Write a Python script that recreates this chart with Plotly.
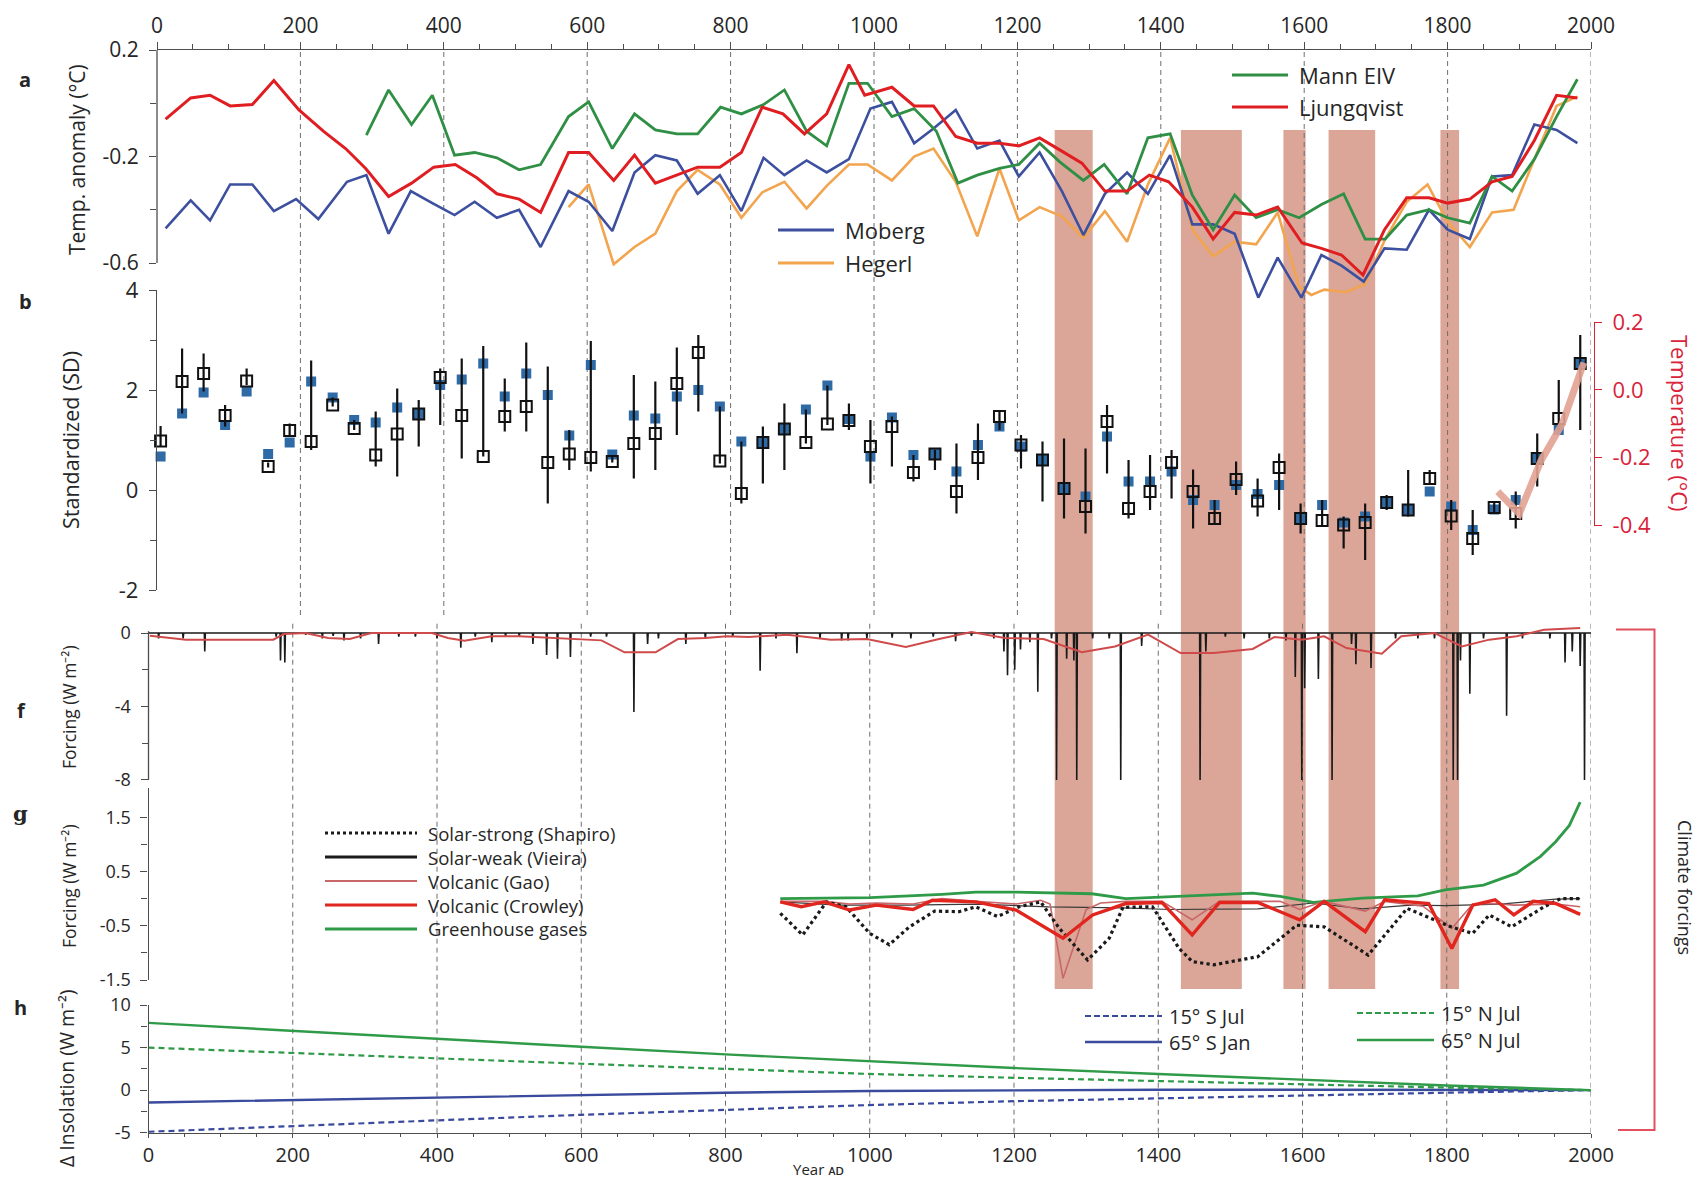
import plotly.graph_objects as go

W, H = 1703, 1178
def px(x): return x / W
def py(y): return 1 - y / H

FONT = "Open Sans, sans-serif"
AX = "#4d4d4d"
TXT = "#262626"

# ---------------- Panel a: temperature reconstructions ----------------
moberg_years = [12, 47, 74, 102, 133, 163, 194, 225, 265, 292, 323, 354, 384, 415, 443, 474, 505, 535, 574, 602,
                635, 666, 695, 725, 754, 785, 815, 846, 875, 906, 934, 965, 995, 1025, 1056, 1083, 1114, 1144, 1175, 1202,
                1231, 1262, 1292, 1322, 1353, 1382, 1413, 1444, 1473, 1503, 1536, 1563, 1596, 1624, 1652, 1683, 1712, 1743, 1774, 1800,
                1831, 1862, 1890, 1921, 1952, 1981]
moberg = [-0.47, -0.365, -0.44, -0.305, -0.305, -0.405, -0.36, -0.435, -0.295, -0.27,
          -0.49, -0.33, -0.375, -0.42, -0.37, -0.43, -0.40, -0.54, -0.33, -0.37,
          -0.48, -0.26, -0.195, -0.215, -0.34, -0.27, -0.405, -0.205, -0.27, -0.215,
          -0.26, -0.21, -0.02, 0.005, -0.15, -0.095, -0.025, -0.17, -0.14, -0.275,
          -0.185, -0.33, -0.495, -0.34, -0.26, -0.34, -0.195, -0.455, -0.455, -0.49,
          -0.73, -0.58, -0.73, -0.57, -0.61, -0.67, -0.545, -0.55, -0.40, -0.475,
          -0.51, -0.275, -0.27, -0.08, -0.10, -0.15]

ljung_years = [12, 47, 74, 102, 133, 163, 198, 232, 263, 291, 323, 355, 386, 416, 446, 474, 505, 535, 574, 602,
               637, 666, 695, 725, 754, 785, 815, 844, 873, 903, 934, 965, 987, 1025, 1056, 1083, 1114, 1144, 1175, 1202,
               1231, 1259, 1290, 1322, 1353, 1384, 1411, 1444, 1473, 1503, 1533, 1563, 1597, 1624, 1652, 1682, 1712, 1743, 1774, 1800,
               1831, 1862, 1890, 1921, 1952, 1981]
ljung = [-0.06, 0.02, 0.03, -0.01, -0.005, 0.085, -0.025, -0.105, -0.17, -0.245,
         -0.35, -0.30, -0.24, -0.23, -0.28, -0.34, -0.36, -0.41, -0.185, -0.185,
         -0.29, -0.195, -0.30, -0.27, -0.24, -0.24, -0.185, -0.015, -0.04, -0.115,
         -0.04, 0.145, 0.03, 0.06, -0.01, -0.01, -0.125, -0.15, -0.15, -0.16,
         -0.13, -0.175, -0.225, -0.33, -0.33, -0.27, -0.295, -0.39, -0.51, -0.41,
         -0.42, -0.39, -0.525, -0.545, -0.57, -0.645, -0.475, -0.355, -0.355, -0.375,
         -0.36, -0.295, -0.275, -0.14, 0.03, 0.02]

mann_years = [292, 323, 355, 384, 415, 443, 474, 505, 535, 574, 602, 635, 666, 695, 725, 754, 786, 815, 846, 875,
              906, 934, 965, 991, 1025, 1056, 1087, 1117, 1144, 1175, 1202, 1231, 1259, 1292, 1321, 1353, 1382, 1413, 1444, 1473,
              1503, 1533, 1563, 1593, 1624, 1655, 1685, 1713, 1743, 1774, 1800, 1831, 1862, 1890, 1921, 1952, 1981]
mann = [-0.12, 0.05, -0.08, 0.03, -0.195, -0.185, -0.205, -0.25, -0.23, -0.05,
        0.005, -0.17, -0.04, -0.10, -0.115, -0.115, -0.015, -0.04, -0.005, 0.05,
        -0.105, -0.16, 0.075, 0.075, -0.05, -0.02, -0.105, -0.30, -0.27, -0.245,
        -0.23, -0.15, -0.22, -0.29, -0.23, -0.34, -0.13, -0.115, -0.345, -0.475,
        -0.345, -0.43, -0.40, -0.43, -0.38, -0.34, -0.51, -0.51, -0.42, -0.40,
        -0.43, -0.45, -0.275, -0.33, -0.21, -0.05, 0.09]

hegerl_years = [574, 602, 637, 666, 695, 725, 754, 785, 815, 844, 875, 906, 934, 965, 991, 1025, 1056, 1083, 1114, 1144,
                1175, 1202, 1231, 1262, 1292, 1322, 1353, 1382, 1413, 1444, 1473, 1503, 1533, 1563, 1593, 1610, 1628, 1658, 1685, 1713,
                1743, 1772, 1800, 1831, 1862, 1892, 1921, 1952, 1981]
hegerl = [-0.39, -0.305, -0.605, -0.54, -0.49, -0.33, -0.25, -0.305, -0.43, -0.335,
          -0.295, -0.395, -0.31, -0.23, -0.23, -0.29, -0.20, -0.17, -0.295, -0.50,
          -0.245, -0.44, -0.39, -0.425, -0.505, -0.405, -0.52, -0.305, -0.13, -0.475,
          -0.575, -0.52, -0.53, -0.41, -0.69, -0.72, -0.70, -0.71, -0.68, -0.51,
          -0.37, -0.305, -0.445, -0.54, -0.41, -0.40, -0.21, -0.01, 0.025]

# ---------------- Panel b: standardized proxies ----------------
b_years = list(range(5, 2000, 30))
b_proxy = [0.98, 2.17, 2.33, 1.49, 2.18, 0.47, 1.19, 0.97, 1.70, 1.23,
           0.70, 1.12, 1.52, 2.25, 1.49, 0.67, 1.47, 1.67, 0.55, 0.72,
           0.65, 0.57, 0.93, 1.13, 2.13, 2.75, 0.58, -0.07, 0.95, 1.22,
           0.95, 1.32, 1.39, 0.87, 1.27, 0.35, 0.72, -0.03, 0.65, 1.47,
           0.90, 0.60, 0.03, -0.33, 1.37, -0.37, -0.03, 0.55, -0.03, -0.57,
           0.21, -0.22, 0.45, -0.57, -0.61, -0.70, -0.65, -0.25, -0.40, 0.23,
           -0.52, -0.97, -0.35, -0.47, 0.63, 1.43, 2.53]
b_blue = [0.67, 1.53, 1.95, 1.30, 1.97, 0.72, 0.95, 2.17, 1.85, 1.40,
          1.35, 1.65, 1.52, 2.10, 2.21, 2.53, 1.87, 2.33, 1.90, 1.09,
          2.50, 0.71, 1.49, 1.43, 1.87, 2.00, 1.67, 0.97, 0.95, 1.22,
          1.61, 2.09, 1.42, 0.67, 1.45, 0.70, 0.72, 0.37, 0.90, 1.27,
          0.87, 0.60, 0.03, -0.13, 1.07, 0.17, 0.17, 0.37, -0.20, -0.30,
          0.10, -0.08, 0.10, -0.57, -0.30, -0.65, -0.53, -0.25, -0.40, -0.03,
          -0.33, -0.80, -0.39, -0.20, 0.63, 1.20, 2.53]
b_hi = [1.28, 2.83, 2.73, 1.70, 2.43, 0.55, 1.33, 2.59, 1.85, 1.40,
        1.57, 2.03, 1.80, 2.43, 2.63, 2.88, 2.23, 2.95, 2.47, 1.20,
        2.98, 0.70, 2.30, 2.17, 2.85, 3.10, 1.67, 0.97, 1.27, 1.73,
        1.61, 2.09, 1.73, 1.40, 1.47, 0.70, 0.80, 0.93, 1.33, 1.57,
        1.10, 0.97, 1.03, 0.83, 1.70, 0.60, 0.70, 0.80, 0.41, -0.20,
        0.57, 0.23, 0.73, -0.27, -0.20, -0.53, -0.27, -0.10, 0.40, 0.40,
        -0.20, -0.40, -0.23, -0.03, 1.13, 2.20, 3.10]
b_lo = [0.87, 1.53, 1.97, 1.27, 2.10, 0.45, 1.07, 0.80, 1.67, 1.20,
        0.47, 0.27, 0.87, 1.30, 0.63, 0.67, 1.17, 1.17, -0.27, 0.40,
        0.37, 0.55, 0.23, 0.40, 1.10, 1.57, 0.53, -0.27, 0.13, 0.40,
        0.93, 1.30, 1.20, 0.13, 0.47, 0.17, 0.40, -0.47, 0.20, 1.20,
        0.43, -0.23, -0.57, -0.87, 0.33, -0.57, -0.40, -0.17, -0.77, -0.70,
        -0.10, -0.53, -0.40, -0.87, -0.73, -1.17, -1.40, -0.40, -0.53, 0.10,
        -0.80, -1.30, -0.45, -0.77, 0.07, 1.20, 1.20]
inst_years = [1870, 1900, 1930, 1960, 1990]
inst_temp = [-0.30, -0.365, -0.21, -0.10, 0.08]

# cold-period bands (years AD)
band_start = [1252, 1428, 1571, 1634, 1790]
band_end = [1305, 1513, 1602, 1699, 1816]

# ---------------- Panel f: volcanic forcing ----------------
f_span = [0, 2000]
volc_years = [14, 48, 78, 177, 183, 189, 218, 241, 256, 271,
              294, 319, 347, 370, 400, 433, 453, 476, 495, 514,
              533, 552, 567, 585, 613, 635, 673, 692, 707, 745,
              772, 810, 848, 870, 899, 931, 961, 970, 996, 1031,
              1057, 1088, 1119, 1141, 1172, 1186, 1191, 1201, 1209, 1222,
              1233, 1252, 1259, 1273, 1283, 1287, 1309, 1332, 1348, 1377,
              1458, 1466, 1493, 1519, 1554, 1577, 1590, 1599, 1603, 1622,
              1641, 1668, 1674, 1695, 1729, 1760, 1783, 1809, 1815, 1819,
              1832, 1851, 1883, 1905, 1943, 1964, 1974, 1985, 1991]
volc_forcing = [-0.3, -0.3, -1.0, -0.2, -1.5, -1.6, -0.1, -0.3, -0.15, -0.4,
                -0.3, -0.6, -0.2, -0.2, -0.3, -0.8, -0.2, -0.5, -0.2, -0.2,
                -0.6, -1.2, -1.4, -1.3, -0.2, -0.2, -4.3, -0.6, -0.3, -0.6,
                -0.3, -0.2, -2.05, -0.3, -1.1, -0.3, -0.4, -0.4, -0.3, -0.25,
                -0.3, -0.2, -0.45, -0.15, -0.3, -1.0, -2.3, -2.0, -0.9, -0.5,
                -3.2, -0.3, -8.0, -1.4, -1.5, -8.0, -0.3, -0.3, -8.0, -0.7,
                -8.0, -1.0, -0.2, -0.3, -0.3, -0.4, -2.4, -8.0, -3.0, -2.5,
                -8.0, -0.6, -1.7, -1.9, -0.3, -0.3, -0.3, -8.0, -8.0, -1.5,
                -3.3, -0.3, -4.5, -0.3, -0.3, -1.6, -1.0, -1.8, -8.0]
fsmooth_years = [2, 52, 173, 188, 218, 249, 279, 309, 393, 415, 438, 476, 514, 597, 628, 660, 703, 734, 772, 802,
                 832, 886, 946, 996, 1050, 1096, 1141, 1187, 1241, 1294, 1340, 1386, 1431, 1477, 1531, 1561, 1599, 1630, 1661, 1710,
                 1737, 1783, 1821, 1859, 1897, 1935, 1973, 1985]
fsmooth = [-0.15, -0.36, -0.36, -0.05, 0.0, -0.27, -0.33, 0.0, 0.0, -0.27, -0.42, -0.18, -0.18, -0.36, -0.4, -1.05, -1.05, -0.33, -0.27, -0.18,
           -0.22, -0.09, -0.36, -0.33, -0.76, -0.33, 0.05, -0.27, -0.33, -1.05, -0.73, -0.09, -1.09, -1.09, -0.87, -0.22, -0.36, -0.18, -0.82, -1.13,
           -0.18, 0.0, -0.73, -0.36, -0.18, 0.18, 0.27, 0.27]

# ---------------- Panel g: forcings ----------------
shapiro_years = [876, 907, 940, 967, 1000, 1027, 1055, 1090, 1124, 1147, 1177, 1207, 1237, 1263, 1302, 1332, 1351, 1392, 1429, 1447,
                 1477, 1538, 1592, 1630, 1691, 1745, 1806, 1836, 1859, 1890, 1935, 1958, 1985]
shapiro = [-0.27, -0.67, -0.06, -0.15, -0.64, -0.85, -0.52, -0.23, -0.24, -0.15, -0.33, -0.15, -0.06, -0.55, -1.13, -0.73, -0.16, -0.15, -0.92, -1.16,
           -1.22, -1.07, -0.49, -0.52, -1.04, -0.18, -0.52, -0.64, -0.30, -0.52, -0.15, 0.0, 0.0]
vieira_years = [876, 958, 1050, 1150, 1248, 1350, 1416, 1538, 1615, 1683, 1750, 1798, 1874, 1951, 1985]
vieira = [-0.06, -0.12, -0.12, -0.10, -0.15, -0.17, -0.20, -0.19, -0.08, -0.19, -0.12, -0.13, -0.10, -0.01, 0.0]
gao_years = [876, 937, 972, 1009, 1060, 1100, 1147, 1203, 1237, 1250, 1268, 1300, 1320, 1355, 1405, 1447, 1485, 1569, 1596, 1630,
             1687, 1714, 1767, 1807, 1836, 1867, 1893, 1951, 1985]
gao = [-0.05, -0.05, -0.10, -0.08, -0.10, 0.0, -0.05, -0.10, -0.03, -0.10, -1.47, -0.20, -0.08, -0.05, -0.05, -0.39, -0.05, -0.05, -0.20, -0.05,
       -0.23, -0.05, -0.14, -0.55, -0.10, -0.09, -0.12, -0.10, -0.15]
crowley_years = [876, 905, 937, 972, 1009, 1060, 1087, 1147, 1203, 1268, 1309, 1355, 1405, 1447, 1485, 1538, 1596, 1630, 1687, 1714,
                 1775, 1807, 1836, 1867, 1893, 1920, 1951, 1985]
crowley = [-0.06, -0.15, -0.06, -0.21, -0.12, -0.20, -0.03, -0.06, -0.21, -0.73, -0.30, -0.09, -0.07, -0.67, -0.07, -0.07, -0.39, -0.05, -0.61, -0.02,
           -0.09, -0.92, -0.12, -0.02, -0.30, -0.05, -0.09, -0.29]
ghg_years = [876, 1001, 1100, 1147, 1203, 1308, 1355, 1429, 1531, 1569, 1615, 1683, 1760, 1798, 1851, 1897, 1930, 1951, 1970, 1985]
ghg = [0.0, 0.02, 0.08, 0.12, 0.12, 0.09, 0.0, 0.04, 0.10, 0.04, -0.07, 0.01, 0.05, 0.16, 0.25, 0.47, 0.78, 1.05, 1.35, 1.78]

# ---------------- Panel h: insolation ----------------
h_years = [0, 200, 400, 600, 800, 1000, 1200, 1400, 1600, 1800, 2000]
n65_jul = [7.9, 6.95, 6.0, 5.1, 4.2, 3.4, 2.6, 1.9, 1.2, 0.55, 0.0]
n15_jul = [5.0, 4.35, 3.7, 3.1, 2.5, 1.9, 1.45, 1.05, 0.65, 0.3, 0.0]
s65_jan = [-1.45, -1.15, -0.85, -0.55, -0.3, -0.1, 0.0, 0.05, 0.05, 0.02, 0.0]
s15_jul = [-4.9, -4.2, -3.55, -2.9, -2.3, -1.75, -1.3, -0.95, -0.65, -0.3, 0.0]

year_ticks = list(range(0, 2001, 200))

# colours
C_MOB, C_HEG, C_MANN, C_LJ = "#3d4f9f", "#f2a44e", "#2f8f45", "#e01e22"
C_BLUE_SQ = "#2e6aa6"
C_BAND = "rgb(219,166,151)"
C_RED = "#d9233a"
C_GREEN = "#2f9a48"
C_IBLUE = "#3a4a9c"

fig = go.Figure()

def add_line(xs, ys, color, width, xa, ya, dash=None, opacity=1.0):
    fig.add_trace(go.Scatter(x=xs, y=ys, mode="lines", xaxis=xa, yaxis=ya,
                             line=dict(color=color, width=width, dash=dash),
                             opacity=opacity, hoverinfo="skip", showlegend=False))

# Panel a
add_line(hegerl_years, hegerl, C_HEG, 2.6, "x", "y")
add_line(moberg_years, moberg, C_MOB, 2.6, "x", "y")
add_line(mann_years, mann, C_MANN, 2.8, "x", "y")
add_line(ljung_years, ljung, C_LJ, 3.0, "x", "y")

# Panel b: instrumental temperature (right axis)
add_line(inst_years, inst_temp, "#e3a293", 7, "x", "y3", opacity=0.9)
fig.add_trace(go.Scatter(x=b_years, y=b_blue, mode="markers", xaxis="x", yaxis="y2",
                         marker=dict(symbol="square", size=10, color=C_BLUE_SQ, line=dict(width=0)),
                         cliponaxis=False, hoverinfo="skip", showlegend=False))
err_up = [max(h - v, 0) for h, v in zip(b_hi, b_proxy)]
err_dn = [max(v - l, 0) for l, v in zip(b_lo, b_proxy)]
fig.add_trace(go.Scatter(x=b_years, y=b_proxy, mode="markers", xaxis="x", yaxis="y2",
                         marker=dict(symbol="square-open", size=11, color="#111", line=dict(width=2, color="#111")),
                         error_y=dict(type="data", symmetric=False, array=err_up, arrayminus=err_dn,
                                      color="#111", thickness=2.2, width=0),
                         cliponaxis=False, hoverinfo="skip", showlegend=False))

# Panel f: volcanic forcing spikes built from the event list
fx, fy = [f_span[0]], [0.0]
for yr, v in sorted(zip(volc_years, volc_forcing)):
    fx += [yr - 0.6, yr, yr + 0.8]
    fy += [0.0, v, 0.0]
fx.append(f_span[1]); fy.append(0.0)
add_line(fx, fy, "#1a1a1a", 1.6, "x2", "y4")
add_line(fsmooth_years, fsmooth, "#cf4a4a", 2.0, "x2", "y4")

# Panel g
add_line(vieira_years, vieira, "#3a3a3a", 1.2, "x2", "y5")
add_line(ghg_years, ghg, C_GREEN, 2.8, "x2", "y5")
add_line(gao_years, gao, "#c9666a", 1.6, "x2", "y5")
add_line(shapiro_years, shapiro, "#1a1a1a", 3.2, "x2", "y5", dash="dot")
add_line(crowley_years, crowley, "#e0261e", 3.4, "x2", "y5")

# Panel h
add_line(h_years, s15_jul, C_IBLUE, 2.2, "x2", "y6", dash="6px,4px")
add_line(h_years, s65_jan, C_IBLUE, 2.4, "x2", "y6")
add_line(h_years, n15_jul, C_GREEN, 2.2, "x2", "y6", dash="6px,4px")
add_line(h_years, n65_jul, C_GREEN, 2.4, "x2", "y6")

# ---------------- Axes ----------------
def yax(domain, rng, tickvals, ticktext, minor_vals, size, showline=True, **kw):
    d = dict(domain=domain, range=rng, showline=showline, linecolor=AX, linewidth=1.3,
             ticks="outside", ticklen=7, tickwidth=1.2, tickcolor=AX,
             tickmode="array", tickvals=tickvals, ticktext=ticktext,
             tickfont=dict(size=size, color=TXT, family=FONT), showgrid=False, zeroline=False,
             ticklabelstandoff=6, fixedrange=True, automargin=False)
    if minor_vals:
        d["minor"] = dict(tickmode="array", tickvals=minor_vals, ticks="outside", ticklen=6,
                          tickcolor=AX, tickwidth=1.2)
    d.update(kw)
    return d

def xax(domain, anchor, side, size=21, ticklen=7):
    return dict(domain=domain, range=[0, 2000], anchor=anchor, side=side, showline=True, linecolor=AX,
                linewidth=1.3, ticks="outside", ticklen=ticklen, tickwidth=1.2, tickcolor=AX,
                tickmode="array", tickvals=year_ticks,
                minor=dict(dtick=50, tick0=0, ticks="outside", ticklen=max(ticklen - 2, 3), tickcolor=AX, tickwidth=1.1),
                tickfont=dict(size=size, color=TXT, family=FONT), showgrid=False, zeroline=False,
                automargin=False, fixedrange=True)

layout = dict(
    width=W, height=H, margin=dict(l=0, r=0, t=0, b=0, pad=0, autoexpand=False),
    paper_bgcolor="white", plot_bgcolor="rgba(0,0,0,0)", showlegend=False,
    font=dict(family=FONT, color=TXT),
    xaxis=xax([px(157), px(1591)], "y", "top"),
    xaxis2=xax([px(148.5), px(1591)], "y6", "bottom", size=20, ticklen=4),
    yaxis=yax([py(305.6), py(50)], [-0.76, 0.2], [0.2, -0.2, -0.6], ["0.2", "-0.2", "-0.6"], [0.0, -0.4], 21,
              showline=False, anchor="x"),
    yaxis2=yax([py(590), py(290)], [-2, 4], [4, 2, 0, -2], ["4", "2", "0", "-2"], [3, 1, -1], 22, anchor="x"),
    yaxis3=yax([py(525.5), py(322)], [-0.4, 0.2], [0.2, 0.0, -0.2, -0.4], ["0.2", "0.0", "-0.2", "-0.4"], [], 22,
               anchor="free", position=px(1594), side="right", linecolor=C_RED, tickcolor=C_RED,
               tickfont=dict(size=22, color=C_RED, family=FONT)),
    yaxis4=yax([py(780.9), py(622)], [-8.05, 0.6], [0, -4, -8], ["0", "-4", "-8"], [-2, -6], 18,
               showline=False, anchor="x2"),
    yaxis5=yax([py(980), py(788)], [-1.5, 2.04], [1.5, 0.5, -0.5, -1.5], ["1.5", "0.5", "-0.5", "-1.5"],
               [1.0, 0.0, -1.0], 18, anchor="x2"),
    yaxis6=yax([py(1132.7), py(1005)], [-5, 10], [10, 5, 0, -5], ["10", "5", "0", "-5"], [7.5, 2.5, -2.5], 18,
               anchor="x2"),
)
fig.update_layout(**layout)

# ---------------- Shapes ----------------
shapes = []
for s, e in zip(band_start, band_end):
    shapes.append(dict(type="rect", xref="x", yref="paper", x0=s, x1=e, y0=py(989), y1=py(130),
                       fillcolor=C_BAND, line=dict(width=0), layer="below"))
for yr in year_ticks[1:]:
    shapes.append(dict(type="line", xref="x", yref="paper", x0=yr, x1=yr, y0=py(615), y1=py(50),
                       line=dict(color="#6e6e6e", width=1, dash="5px,4px"), layer="below"))
    shapes.append(dict(type="line", xref="x2", yref="paper", x0=yr, x1=yr, y0=py(1132.7), y1=py(621),
                       line=dict(color="#6e6e6e", width=1, dash="5px,4px"), layer="below"))
shapes.append(dict(type="line", xref="paper", yref="y", x0=px(157), x1=px(157), y0=-0.6, y1=0.2,
                   line=dict(color=AX, width=1.3)))
shapes.append(dict(type="line", xref="paper", yref="y4", x0=px(148.5), x1=px(148.5), y0=-8, y1=0.1,
                   line=dict(color=AX, width=1.3)))
shapes.append(dict(type="path", xref="paper", yref="paper",
                   path=f"M {px(1616)} {py(629.5)} L {px(1654.5)} {py(629.5)} L {px(1654.5)} {py(1130)} L {px(1618)} {py(1130)}",
                   line=dict(color="#e0505e", width=2)))

def leg_line(x0, x1, y, color, width, dash=None):
    shapes.append(dict(type="line", xref="paper", yref="paper", x0=px(x0), x1=px(x1), y0=py(y), y1=py(y),
                       line=dict(color=color, width=width, dash=dash)))

leg_line(1232, 1288, 75, C_MANN, 3)
leg_line(1232, 1288, 107, C_LJ, 3)
leg_line(778, 834, 230, C_MOB, 3)
leg_line(778, 834, 263, C_HEG, 3)
g_leg_y = [833, 857, 881, 905, 929]
leg_line(325, 417, g_leg_y[0], "#1a1a1a", 3, "dot")
leg_line(325, 417, g_leg_y[1], "#1a1a1a", 3)
leg_line(325, 417, g_leg_y[2], "#c9666a", 2)
leg_line(325, 417, g_leg_y[3], "#e0261e", 3)
leg_line(325, 417, g_leg_y[4], C_GREEN, 3)
leg_line(1085, 1162, 1016, C_IBLUE, 2.2, "6px,3px")
leg_line(1085, 1162, 1042, C_IBLUE, 2.6)
leg_line(1357, 1434, 1013, C_GREEN, 2.2, "6px,3px")
leg_line(1357, 1434, 1040, C_GREEN, 2.6)
fig.update_layout(shapes=shapes)

# ---------------- Annotations ----------------
ann = []
def text(x, y, s, size, color=TXT, xanchor="left", angle=0, bold=False, family=FONT, yanchor="middle"):
    ann.append(dict(x=px(x), y=py(y), xref="paper", yref="paper", text=(f"<b>{s}</b>" if bold else s),
                    showarrow=False, xanchor=xanchor, yanchor=yanchor, textangle=angle,
                    font=dict(size=size, color=color, family=family)))

text(1297, 75, "Mann EIV", 22)
text(1297, 107, "Ljungqvist", 22)
text(843, 230, "Moberg", 22)
text(843, 263, "Hegerl", 22)
for lab, y in zip(["Solar-strong (Shapiro)", "Solar-weak (Vieira)", "Volcanic (Gao)", "Volcanic (Crowley)", "Greenhouse gases"], g_leg_y):
    text(426, y, lab, 18.5)
text(1167, 1016, "15° S Jul", 20)
text(1167, 1042, "65° S Jan", 20)
text(1439, 1013, "15° N Jul", 20)
text(1439, 1040, "65° N Jul", 20)

text(77, 160, "Temp. anomaly (°C)", 21, xanchor="center", angle=-90)
text(71, 440, "Standardized (SD)", 21.5, xanchor="center", angle=-90)
text(69, 707, "Forcing (W m⁻²)", 17.5, xanchor="center", angle=-90)
text(69, 886, "Forcing (W m⁻²)", 17.5, xanchor="center", angle=-90)
text(66, 1078, "Δ Insolation (W m⁻²)", 19.5, xanchor="center", angle=-90)
text(1680, 423, "Temperature (°C)", 22, color=C_RED, xanchor="center", angle=90)
text(1685, 887, "Climate forcings", 18, xanchor="center", angle=90)
text(846, 1169, "Year ᴀᴅ", 15, xanchor="right")

text(25, 79, "a", 20, xanchor="center", bold=True)
text(25, 301, "b", 20, xanchor="center", bold=True)
text(21, 710, "f", 20, xanchor="center", bold=True)
text(20, 813, "g", 21, xanchor="center", bold=True, family="DejaVu Serif, serif")
text(20, 1007, "h", 20, xanchor="center", bold=True)

fig.update_layout(annotations=ann)

fig.write_html("out.html")
